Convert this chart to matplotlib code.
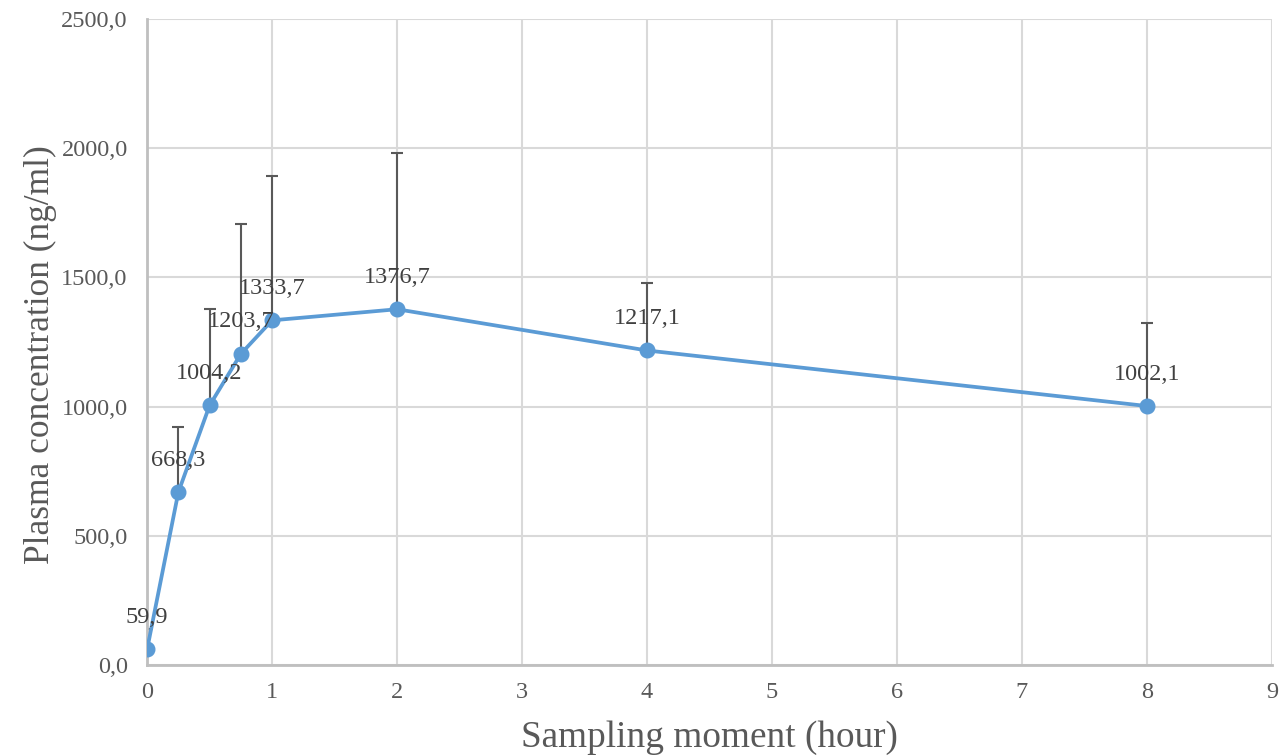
import matplotlib
matplotlib.use('Agg')
import matplotlib.pyplot as plt
from matplotlib.ticker import FuncFormatter

hours = [0, 0.25, 0.5, 0.75, 1, 2, 4, 8]
conc = [59.9, 668.3, 1004.2, 1203.7, 1333.7, 1376.7, 1217.1, 1002.1]
sd = [80, 253, 374, 503, 559, 605, 261, 321]

plt.rcParams['font.family'] = ['Liberation Serif', 'DejaVu Serif']

fig = plt.figure(figsize=(12.79, 7.56), dpi=100)
ax = fig.add_axes([0.115, 0.1204, 0.8795, 0.8545])

ax.errorbar(hours, conc, yerr=[[0] * len(sd), sd], fmt='none', ecolor='#595959',
            elinewidth=1.5, capsize=4.5, capthick=1.5, zorder=2)
ax.plot(hours, conc, color='#5B9BD5', lw=2.7, marker='o', ms=10.5, zorder=3)

# data labels above each point
for x, y in zip(hours, conc):
    ax.annotate(f'{y:.1f}'.replace('.', ','), (x, y), xytext=(0, 23), textcoords='offset points',
                ha='center', va='center', fontsize=17.5, color='#404040', zorder=4)

ax.set_xlim(0, 9)
ax.set_ylim(0, 2500)
ax.set_xticks(range(0, 10))
ax.set_yticks(range(0, 2501, 500))
ax.yaxis.set_major_formatter(FuncFormatter(lambda v, p: f'{v:.1f}'.replace('.', ',')))
ax.grid(True, color='#D9D9D9', lw=1.5, zorder=0)
ax.set_axisbelow(True)
for s in ['top', 'right']:
    ax.spines[s].set_visible(False)
for s in ['left', 'bottom']:
    ax.spines[s].set_color('#BFBFBF')
    ax.spines[s].set_linewidth(2)
ax.tick_params(length=0, labelsize=17.5, colors='#595959')
ax.tick_params(axis='y', pad=14)
ax.tick_params(axis='x', pad=12)

ax.set_xlabel('Sampling moment (hour)', fontsize=26.8, color='#595959', va='center')
ax.set_ylabel('Plasma concentration (ng/ml)', fontsize=25.5, color='#595959', va='center')
ax.xaxis.set_label_coords(0.5, -0.113)
ax.yaxis.set_label_coords(-0.095, 0.48)

fig.savefig('out.png', dpi=100)
